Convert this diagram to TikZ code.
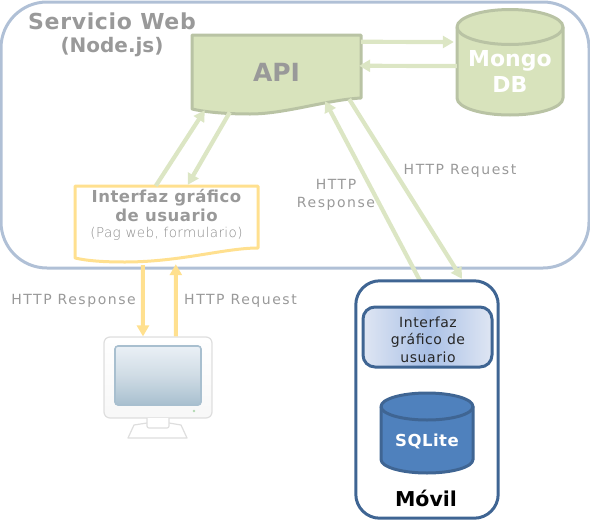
\documentclass[tikz,border=0pt]{standalone}
\usepackage{fontspec}
\setmainfont{DejaVu Sans}
\newfontfamily\wideb[LetterSpace=3,BoldFont={DejaVu Sans Bold}]{DejaVu Sans}
\newfontfamily\widen[LetterSpace=11]{DejaVu Sans}
\newfontfamily\widem[LetterSpace=4]{DejaVu Sans}
\newfontfamily\lightf[LetterSpace=3]{DejaVu Sans ExtraLight}
\usetikzlibrary{shapes.geometric,arrows.meta}
\definecolor{frameblue}{HTML}{B0C0D6}
\definecolor{apifill}{HTML}{D8E3BC}
\definecolor{apiline}{HTML}{B9C3A4}
\definecolor{arrowgreen}{HTML}{DCE6C4}
\definecolor{docyellow}{HTML}{FFE08F}
\definecolor{txtgray}{HTML}{999999}
\definecolor{subgray}{HTML}{8A8A8A}
\definecolor{darkblue}{HTML}{3F6593}
\definecolor{midblue}{HTML}{4F81BD}
\definecolor{lightblue}{HTML}{DFE6F3}
\definecolor{centerblue}{HTML}{A9C0E6}
\definecolor{screenlo}{HTML}{A8BFCF}
\definecolor{screenhi}{HTML}{EAF0F6}
\tikzset{
  greenarrow/.style={draw=arrowgreen,line width=4.2pt,-{Triangle[length=11pt,width=12pt]}},
  yellowarrow/.style={draw=docyellow,line width=4pt,-{Triangle[length=11pt,width=12pt]}},
  boxlabel/.style={inner sep=0pt,align=center,text=txtgray},
  edgelabel/.style={inner sep=0pt,align=center,text=txtgray,font=\widen\fontsize{14}{17.5}\selectfont},
  hollow/.style={inner sep=0pt}
}
\begin{document}
\begin{tikzpicture}[x=1pt,y=-1pt]
\useasboundingbox (0,0) rectangle (590,520);
% service frame
\node[draw=frameblue,line width=3pt,rounded corners=46pt,minimum width=588pt,minimum height=266pt,inner sep=0pt] (web) at (295,135) {};
\node[boxlabel,font=\wideb\bfseries\fontsize{22}{26}\selectfont] (webtitle) at (112,21) {Servicio Web};
\node[boxlabel,font=\bfseries\fontsize{20}{26}\selectfont] (websub) at (112,47) {(Node.js)};
% API
\node[hollow,minimum width=169pt,minimum height=74pt] (api) at (276.5,72) {};
\draw[draw=apiline,fill=apifill,line width=3pt,line join=round] (192,35) -- (361,35) -- (361,98)
  .. controls (326,100) and (285,114) .. (250,114) .. controls (225,114) and (205,112) .. (192,109) -- cycle;
\node[text=txtgray,font=\bfseries\fontsize{25}{30}\selectfont,inner sep=0pt] (apitext) at (api.center) {API};
% Mongo
\node[hollow,minimum width=106pt,minimum height=106pt] (mongo) at (510,62) {};
\draw[draw=apiline,fill=apifill,line width=3pt] (457,27) -- (457,98) .. controls (457,107.6) and (481,115) .. (510,115) .. controls (539,115) and (563,107.6) .. (563,98) -- (563,27) .. controls (563,17.4) and (539,9.5) .. (510,9.5) .. controls (481,9.5) and (457,17.4) .. (457,27) -- cycle;
\draw[draw=apiline,line width=3pt] (457,27) .. controls (457,36.6) and (481,44.5) .. (510,44.5) .. controls (539,44.5) and (563,36.6) .. (563,27);
\node[text=white,font=\bfseries\fontsize{22}{26}\selectfont,align=center,inner sep=0pt] (mongotext) at (510,71) {Mongo\\DB};
% document
\node[boxlabel,minimum width=183pt,minimum height=58pt] (doc) at (166.5,215) {\wideb\bfseries\fontsize{16.5}{20}\selectfont Interfaz gráfico\\[2pt]\wideb\bfseries\fontsize{16.5}{20}\selectfont de usuario\\[4pt]\lightf\color{subgray}\fontsize{13.5}{18}\selectfont(Pag web, formulario)};
\draw[draw=docyellow,line width=3pt,line join=round] (75,186) -- (258,186) -- (258,248)
  .. controls (225,248) and (180,262) .. (125,262) .. controls (105,262) and (88,261) .. (75,258) -- cycle;
% connectors
\draw[greenarrow] ([xshift=81pt]doc.north west) -- ([xshift=13pt,yshift=-1pt]api.south west);
\draw[greenarrow] ([xshift=38pt,yshift=-3pt]api.south west) -- ([xshift=113pt,yshift=1pt]doc.north west);
\draw[greenarrow] ([yshift=-7pt]api.north east) -- ([xshift=-3pt,yshift=20pt]mongo.west);
\draw[greenarrow] ([yshift=-4pt]mongo.west) -- ([xshift=-2pt,yshift=-31pt]api.north east);
\node[hollow,minimum width=142pt,minimum height=237pt] (movil) at (427,399.5) {};
\draw[greenarrow] ([xshift=-7pt]movil.north) -- ([xshift=-36pt,yshift=8pt]api.south east);
\draw[greenarrow] ([xshift=-12pt,yshift=10pt]api.south east) -- ([xshift=35pt,yshift=2pt]movil.north);
% labels
\node[edgelabel] (lreq) at (460,170.5) {HTTP Request};
\node[edgelabel] (lresp) at (336,195) {HTTP\\Response};
\node[edgelabel] (lresp2) at (73.5,300.5) {HTTP Response};
\node[edgelabel] (lreq2) at (240.5,300.5) {HTTP Request};
% monitor
\node[inner sep=0pt,minimum width=108pt,minimum height=81pt,draw=black!13,line width=1.2pt,rounded corners=6pt,top color=white,bottom color=black!3] (monitor) at (158,377.5) {};
\node[inner sep=0pt,minimum width=86pt,minimum height=59pt,draw=screenlo,line width=1.6pt,rounded corners=3pt,top color=screenhi,bottom color=screenlo,middle color=screenlo!55] (screen) at (158,375.5) {};
\fill[green!50!black!30] (194,411) circle (1.3pt);
\draw[black!13,line width=1.2pt,fill=white,line join=round] (147,423) -- (134,425) -- (128,438) -- (187,438) -- (181,425) -- (169,423);
\draw[black!13,line width=1.2pt,fill=white,rounded corners=2pt] (147,418) -- (147,428) -- (169,428) -- (169,418);
% yellow arrows
\draw[yellowarrow] ([xshift=68pt,yshift=-21pt]doc.south west) -- ([xshift=-15pt]monitor.north);
\draw[yellowarrow] ([xshift=18pt]monitor.north) -- ([xshift=101pt,yshift=-20pt]doc.south west);
% mobile
\draw[draw=darkblue,line width=3pt,rounded corners=24pt] (movil.north west) rectangle (movil.south east);
\node[inner sep=0pt,minimum width=129pt,minimum height=60pt,rounded corners=12pt,draw=darkblue,line width=3pt,left color=lightblue,right color=lightblue,middle color=centerblue] (gui) at (427.5,337) {};
\node[inner sep=0pt,align=center,font=\widem\fontsize{14}{17.5}\selectfont,text=black!85] (guitext) at (428,339.5) {Interfaz\\gráfico de\\usuario};
\node[hollow,minimum width=92pt,minimum height=80pt] (sqlite) at (427,433) {};
\draw[draw=darkblue,fill=midblue,line width=3pt] (381,406.5) -- (381,459.5) .. controls (381,467) and (401.5,473) .. (427,473) .. controls (452.5,473) and (473,467) .. (473,459.5) -- (473,406.5) .. controls (473,399) and (452.5,393) .. (427,393) .. controls (401.5,393) and (381,399) .. (381,406.5) -- cycle;
\draw[draw=darkblue,line width=3pt] (381,406.5) .. controls (381,414) and (401.5,420) .. (427,420) .. controls (452.5,420) and (473,414) .. (473,406.5);
\node[text=white,font=\wideb\bfseries\fontsize{16.5}{19}\selectfont,inner sep=0pt] (sqlitetext) at (427,441) {SQLite};
\node[text=black,font=\bfseries\fontsize{20.5}{24}\selectfont,inner sep=0pt] (moviltext) at (426,498) {Móvil};
\end{tikzpicture}
\end{document}
